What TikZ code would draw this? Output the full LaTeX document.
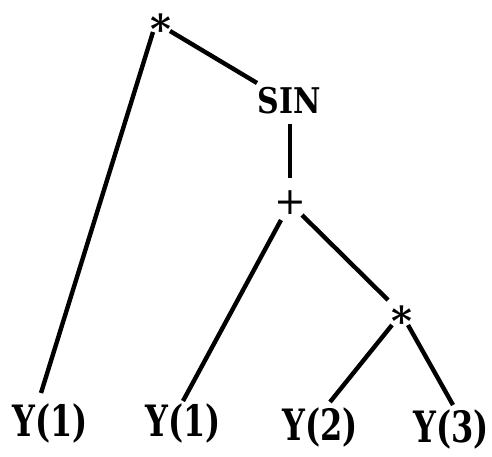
\documentclass[tikz,border=0pt]{standalone}
\usepackage{graphicx}
\usepackage{fontspec}
\setmainfont{DejaVu Serif}
\tikzset{
  lbl/.style={inner sep=0pt, outer sep=0pt, anchor=base},
  edge/.style={line width=4.4pt},
}
\newcommand{\ylab}[1]{\scalebox{1}[1.35]{\fontsize{32}{32}\selectfont\bfseries #1}}
\newcommand{\opsym}[1]{\fontsize{40}{40}\selectfont\bfseries #1}
\begin{document}
\begin{tikzpicture}[x=1pt,y=-1pt]
\useasboundingbox (0,0) rectangle (492,456);
\node[lbl] (m1) at (161,43) {\opsym{*}};
\node[lbl] (sin) at (289,113) {\scalebox{1}[1.18]{\fontsize{30}{30}\selectfont\bfseries SIN}};
\node[lbl] (plus) at (290,214) {\fontsize{38}{38}\selectfont +};
\node[lbl] (m2) at (402,335) {\opsym{*}};
\node[lbl] (y1) at (50,436) {\ylab{Y(1)}};
\node[lbl] (y1b) at (183,436) {\ylab{Y(1)}};
\node[lbl] (y2) at (320,440) {\ylab{Y(2)}};
\node[lbl] (y3) at (451,442) {\ylab{Y(3)}};
\draw[edge] ([shift={(-8,-11)}]m1.base) -- ([shift={(-9,-43)}]y1.base);
\draw[edge] ([shift={(9,-12)}]m1.base) -- ([shift={(-32,-30)}]sin.base);
\draw[edge] ([shift={(1,11)}]sin.base) -- ([shift={(0,-36)}]plus.base);
\draw[edge] ([shift={(-9,6)}]plus.base) -- ([shift={(0,-35)}]y1b.base);
\draw[edge] ([shift={(12,1)}]plus.base) -- ([shift={(-14,-35)}]m2.base);
\draw[edge] ([shift={(-10,-10)}]m2.base) -- ([shift={(10,-38)}]y2.base);
\draw[edge] ([shift={(6,-10)}]m2.base) -- ([shift={(2,-37)}]y3.base);
\end{tikzpicture}
\end{document}
